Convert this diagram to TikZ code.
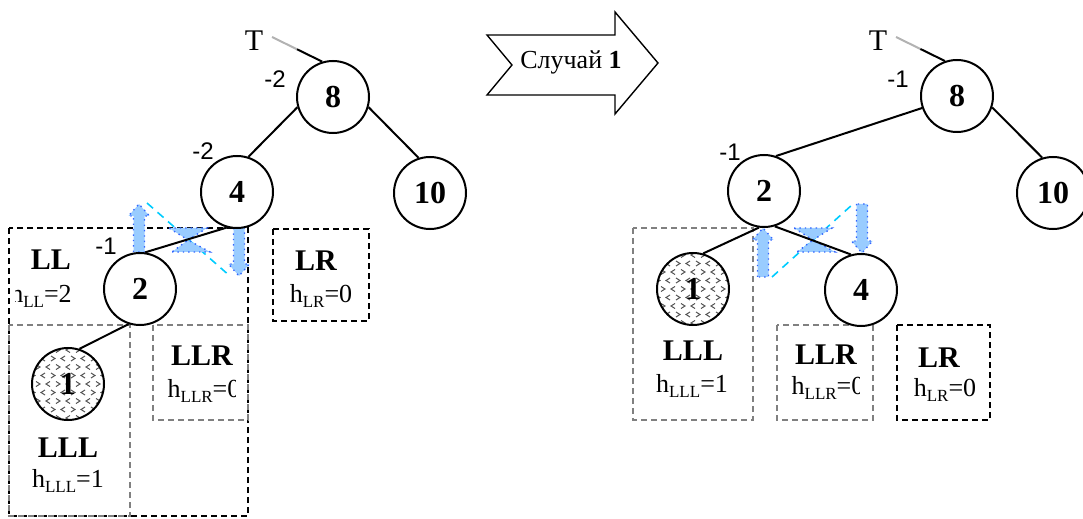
\documentclass[tikz,border=0pt]{standalone}
\usepackage{fontspec}
\setmainfont{Liberation Serif}
\newfontfamily\balsans{Liberation Sans}
\usetikzlibrary{calc}
\definecolor{arrowfill}{HTML}{99CCFF}
\definecolor{arrowedge}{HTML}{3366FF}
\definecolor{guide}{HTML}{00CCFF}
\definecolor{boxgray}{HTML}{808080}
\definecolor{chevgray}{HTML}{505050}
% lowered subscript used in the height labels
\newcommand{\subtxt}[1]{\raisebox{-0.4ex}{\fontsize{8.5}{8.5}\selectfont #1}}
% vertical block arrows: x, tail y, tip y
\newcommand{\blockup}[3]{\filldraw[blockarrow] (#1-5.5,#2) -- (#1-5.5,#3+12) -- (#1-10.5,#3+12) -- (#1,#3) -- (#1+10.5,#3+12) -- (#1+5.5,#3+12) -- (#1+5.5,#2) -- cycle;}
\newcommand{\blockdown}[3]{\filldraw[blockarrow] (#1-5.5,#2) -- (#1-5.5,#3-12) -- (#1-10.5,#3-12) -- (#1,#3) -- (#1+10.5,#3-12) -- (#1+5.5,#3-12) -- (#1+5.5,#2) -- cycle;}
% rotation mark: two triangles meeting at a point
\newcommand{\hourglass}[2]{\filldraw[blockarrow] (#1-19,#2-12) -- (#1+19,#2-12) -- (#1,#2) -- cycle;
  \filldraw[blockarrow] (#1-16,#2+12) -- (#1+22,#2+12) -- (#1,#2) -- cycle;}
% chevron texture inside a leaf circle centred at x,y
\newcommand{\chevfill}[2]{\begin{scope}
  \clip (#1,#2) circle (18pt);
  \foreach \i in {-4,...,4}{\foreach \j in {-5,...,5}{
    \pgfmathsetmacro{\px}{#1+\i*10+mod(abs(\j),2)*5}
    \pgfmathsetmacro{\py}{#2+\j*8.5}
    \pgfmathsetmacro{\sg}{ifthenelse(mod(abs(\i+\j),2)==0,1,-1)}
    \draw[chev] (\px+\sg*2,\py-2.5) -- (\px-\sg*2,\py) -- (\px+\sg*2,\py+2.5);
  }}
\end{scope}}

\begin{document}
\begin{tikzpicture}[x=0.5pt,y=-0.5pt,
  treenode/.style={circle,draw,line width=1pt,minimum size=36pt,inner sep=0pt,
    font=\fontsize{16}{16}\selectfont\bfseries},
  filled/.style={treenode,fill=white},
  edge/.style={line width=1pt},
  fadeedge/.style={line width=1pt,draw=gray!60},
  boxblack/.style={line width=0.8pt,dash pattern=on 3pt off 2pt},
  boxgray/.style={line width=0.8pt,draw=boxgray,dash pattern=on 3pt off 2pt},
  guideline/.style={line width=0.8pt,draw=guide,dash pattern=on 4pt off 3pt},
  blockarrow/.style={fill=arrowfill,draw=arrowedge,line width=0.7pt,dotted},
  chev/.style={line width=0.5pt,draw=chevgray},
  lbl/.style={inner sep=0pt,font=\fontsize{15}{15}\selectfont\bfseries},
  htxt/.style={inner sep=0pt,font=\fontsize{13}{13}\selectfont},
  bal/.style={inner sep=0pt,font=\balsans\fontsize{12}{12}\selectfont},
  rootlbl/.style={inner sep=0pt,font=\fontsize{15}{15}\selectfont},
  casearrow/.style={line width=0.7pt,fill=white}]
\useasboundingbox (0,0) rectangle (1083,519);

% ---------- before the rotation ----------
\draw[boxblack] (9,228) rectangle (248,516);
\draw[boxgray] (9,325) rectangle (130,516);
\draw[boxgray] (153,325) rectangle (248,420);
\draw[boxblack] (273,229) rectangle (369,321);

\coordinate (gA) at (147,203);
\coordinate (gB) at (231,277);
\draw[guideline] (gA) -- (gB);
\hourglass{188}{240}
\blockup{139}{252}{204}
\blockdown{239}{228}{276}

\node[filled] (L8) at (333,97) {8};
\node[filled] (L4) at (237,192) {4};
\node[filled] (L10) at (430,193) {10};
\node[filled] (L2) at (140,289) {2};
\chevfill{68}{384}
\node[treenode] (L1) at (68,384) {1};

\node[rootlbl] (LT) at (254,41) {T};
\coordinate (LTs) at (272,37);
\coordinate (LTm) at ($(LTs)!0.5!(L8.107)$);
\draw[fadeedge] (LTs) -- (LTm);
\draw[edge] (LTm) -- (L8.107);
\draw[edge] (L8.196) -- (L4.72);
\draw[edge] (L8.-16) -- (L10.108);
\draw[edge] (L4.254) -- (L2.82);
\draw[edge] (L2.252) -- (L1.72);

\node[bal] (Lb8) at (275,79) {-2};
\node[bal] (Lb4) at (203,151) {-2};
\node[bal] (Lb2) at (106,246) {-1};

\node[lbl] (LLn) at (51,260) {LL};
\begin{scope}
  \clip (15,270) rectangle (120,320);
  \node[htxt] (LLh) at (41,296) {h\subtxt{LL}=2};
\end{scope}
\node[lbl] (LLRn) at (202,356) {LLR};
\begin{scope}
  \clip (150,370) rectangle (235.5,410);
  \node[htxt] (LLRh) at (204,391) {h\subtxt{LLR}=0};
\end{scope}
\node[lbl] (LLLn) at (68,448) {LLL};
\node[htxt] (LLLh) at (68,481) {h\subtxt{LLL}=1};
\node[lbl] (LRn) at (316,261) {LR};
\node[htxt] (LRh) at (321,296) {h\subtxt{LR}=0};

% ---------- case arrow ----------
\draw[casearrow] (487,35) -- (615,35) -- (615,12) -- (658,63) -- (615,114)
  -- (615,95) -- (487,95) -- (512,65) -- cycle;
\node[inner sep=0pt,font=\fontsize{13}{13}\selectfont] (case) at (571,62) {Случай \textbf{1}};

% ---------- after the rotation ----------
\draw[boxgray] (633,228) rectangle (753,420);
\draw[boxgray] (777,325) rectangle (873,420);
\draw[boxblack] (897,325) rectangle (990,420);

\coordinate (gC) at (772,277);
\coordinate (gD) at (853,204);
\draw[guideline] (gC) -- (gD);
\hourglass{813}{240}
\blockup{763}{277}{228}
\blockdown{862}{204}{253}

\node[filled] (R8) at (957,96) {8};
\node[filled] (R2) at (764,191) {2};
\node[filled] (R10) at (1053,193) {10};
\node[filled] (R4) at (861,290) {4};
\chevfill{693}{289}
\node[treenode] (R1) at (693,289) {1};

\node[rootlbl] (RT) at (878,41) {T};
\coordinate (RTs) at (896,37);
\coordinate (RTm) at ($(RTs)!0.5!(R8.109)$);
\draw[fadeedge] (RTs) -- (RTm);
\draw[edge] (RTm) -- (R8.109);
\draw[edge] (R8.199) -- (R2.71);
\draw[edge] (R8.-18) -- (R10.107);
\draw[edge] (R2.262) -- (R1.74);
\draw[edge] (R2.-73) -- (R4.106);

\node[bal] (Rb8) at (898,79) {-1};
\node[bal] (Rb2) at (730,152) {-1};

\node[lbl] (RLLLn) at (693,351) {LLL};
\node[htxt] (RLLLh) at (692,386) {h\subtxt{LLL}=1};
\node[lbl] (RLLRn) at (826,355) {LLR};
\begin{scope}
  \clip (780,370) rectangle (859.5,410);
  \node[htxt] (RLLRh) at (828,388) {h\subtxt{LLR}=0};
\end{scope}
\node[lbl] (RLRn) at (939,358) {LR};
\node[htxt] (RLRh) at (945,390) {h\subtxt{LR}=0};
\end{tikzpicture}
\end{document}
